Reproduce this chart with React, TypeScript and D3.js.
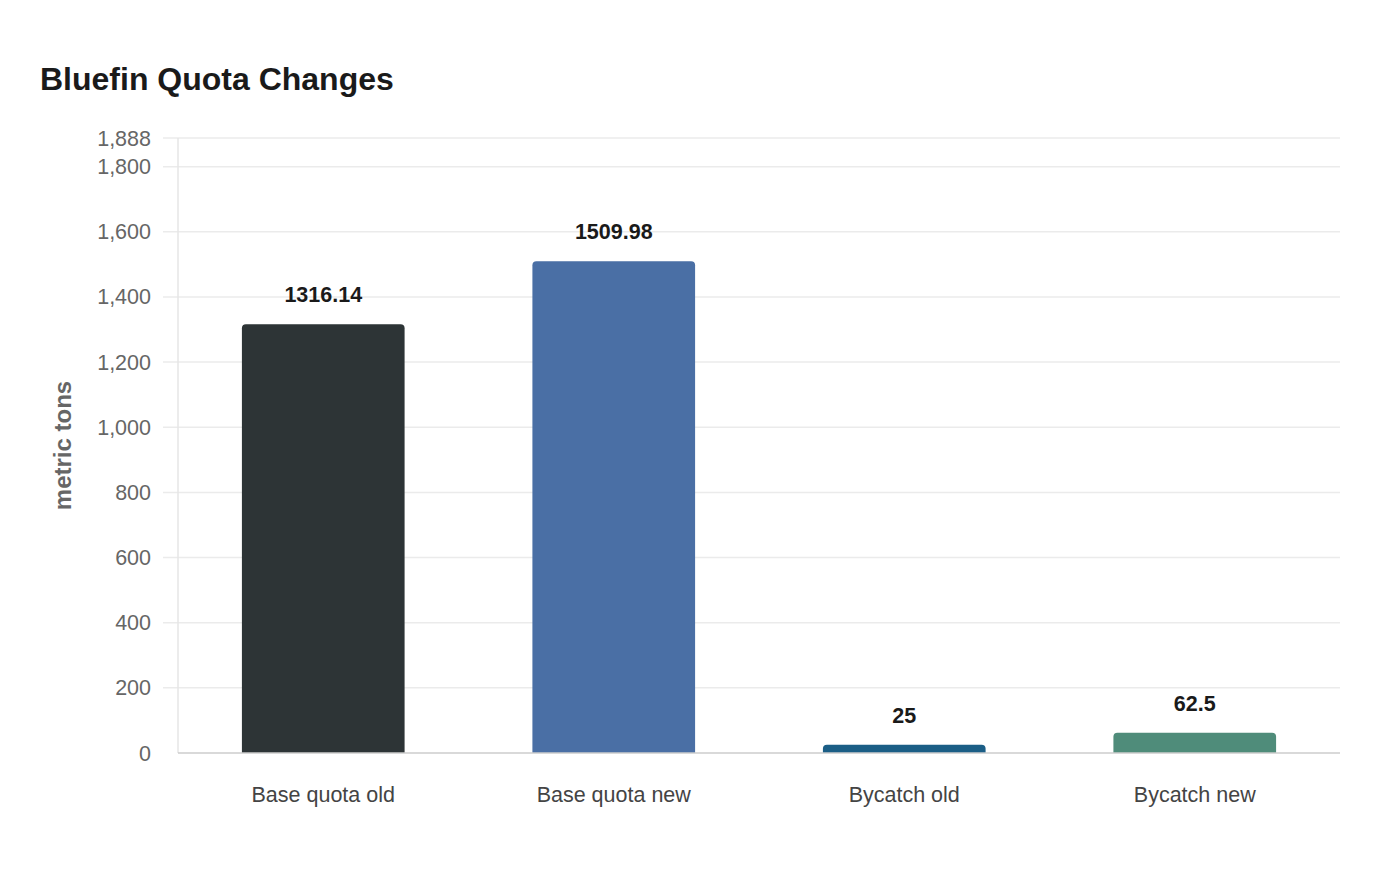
import React, { useEffect, useRef } from "react";
import * as d3 from "d3";

const categories = ["Base quota old", "Base quota new", "Bycatch old", "Bycatch new"];
const values = [1316.14, 1509.98, 25, 62.5];
const barColors = ["#2d3436", "#4a6fa5", "#1b5e86", "#4f8c7a"];
const yTicks = [0, 200, 400, 600, 800, 1000, 1200, 1400, 1600, 1800, 1888];

const FONT = "'Liberation Sans', Arial, sans-serif";

// path for a bar with rounded top corners only
function topRoundedRect(x: number, y: number, w: number, h: number, r: number) {
  const rr = Math.min(r, h, w / 2);
  return `M${x},${y + h}V${y + rr}Q${x},${y} ${x + rr},${y}H${x + w - rr}Q${x + w},${y} ${x + w},${y + rr}V${y + h}Z`;
}

const App: React.FC = () => {
  const svgRef = useRef<SVGSVGElement | null>(null);

  useEffect(() => {
    const svg = d3.select(svgRef.current);
    svg.selectAll("*").remove();

    const left = 178;
    const right = 1340;
    const top = 138;
    const bottom = 753;

    const x = d3
      .scaleBand()
      .domain(categories)
      .range([left, right])
      .paddingInner(0.44)
      .paddingOuter(0.22);
    const y = d3.scaleLinear().domain([0, 1888]).range([bottom, top]);

    // title
    svg
      .append("text")
      .attr("x", 40)
      .attr("y", 90)
      .style("font-family", FONT)
      .style("font-size", "32px")
      .style("font-weight", "bold")
      .style("fill", "#1a1a1a")
      .text("Bluefin Quota Changes");

    // grid lines
    svg
      .append("g")
      .selectAll("line")
      .data(yTicks.filter((t) => t !== 0))
      .enter()
      .append("line")
      .attr("x1", 163)
      .attr("x2", right)
      .attr("y1", (d) => y(d))
      .attr("y2", (d) => y(d))
      .attr("stroke", "#ebebeb")
      .attr("stroke-width", 1.5);

    // left axis line
    svg
      .append("line")
      .attr("x1", left)
      .attr("x2", left)
      .attr("y1", top)
      .attr("y2", bottom)
      .attr("stroke", "#e6e6e6")
      .attr("stroke-width", 1.5);

    // y tick labels
    svg
      .append("g")
      .selectAll("text")
      .data(yTicks)
      .enter()
      .append("text")
      .attr("x", 151)
      .attr("y", (d) => y(d))
      .attr("dy", "0.35em")
      .attr("text-anchor", "end")
      .style("font-family", FONT)
      .style("font-size", "21.5px")
      .style("fill", "#666")
      .text((d) => d3.format(",")(d));

    // y axis title
    svg
      .append("text")
      .attr("transform", `translate(71, ${(top + bottom) / 2}) rotate(-90)`)
      .attr("text-anchor", "middle")
      .style("font-family", FONT)
      .style("font-size", "24px")
      .style("font-weight", "bold")
      .style("fill", "#666")
      .text("metric tons");

    // bars
    svg
      .append("g")
      .selectAll("path")
      .data(values)
      .enter()
      .append("path")
      .attr("d", (d, i) =>
        topRoundedRect(x(categories[i]) || 0, y(d), x.bandwidth(), bottom - y(d), 4)
      )
      .attr("fill", (_, i) => barColors[i]);

    // bottom axis line
    svg
      .append("line")
      .attr("x1", left)
      .attr("x2", right)
      .attr("y1", bottom)
      .attr("y2", bottom)
      .attr("stroke", "#cccccc")
      .attr("stroke-width", 1.5);

    // value labels
    svg
      .append("g")
      .selectAll("text")
      .data(values)
      .enter()
      .append("text")
      .attr("x", (_, i) => (x(categories[i]) || 0) + x.bandwidth() / 2)
      .attr("y", (d) => y(d) - 22)
      .attr("text-anchor", "middle")
      .style("font-family", FONT)
      .style("font-size", "21.5px")
      .style("font-weight", "bold")
      .style("fill", "#1a1a1a")
      .text((d) => String(d));

    // category labels
    svg
      .append("g")
      .selectAll("text")
      .data(categories)
      .enter()
      .append("text")
      .attr("x", (d) => (x(d) || 0) + x.bandwidth() / 2)
      .attr("y", 802)
      .attr("text-anchor", "middle")
      .style("font-family", FONT)
      .style("font-size", "21.5px")
      .style("fill", "#444")
      .text((d) => d);
  }, []);

  return (
    <svg
      ref={svgRef}
      width={1400}
      height={880}
      style={{ position: "absolute", left: 0, top: 0, background: "#fff" }}
    ></svg>
  );
};

export default App;
